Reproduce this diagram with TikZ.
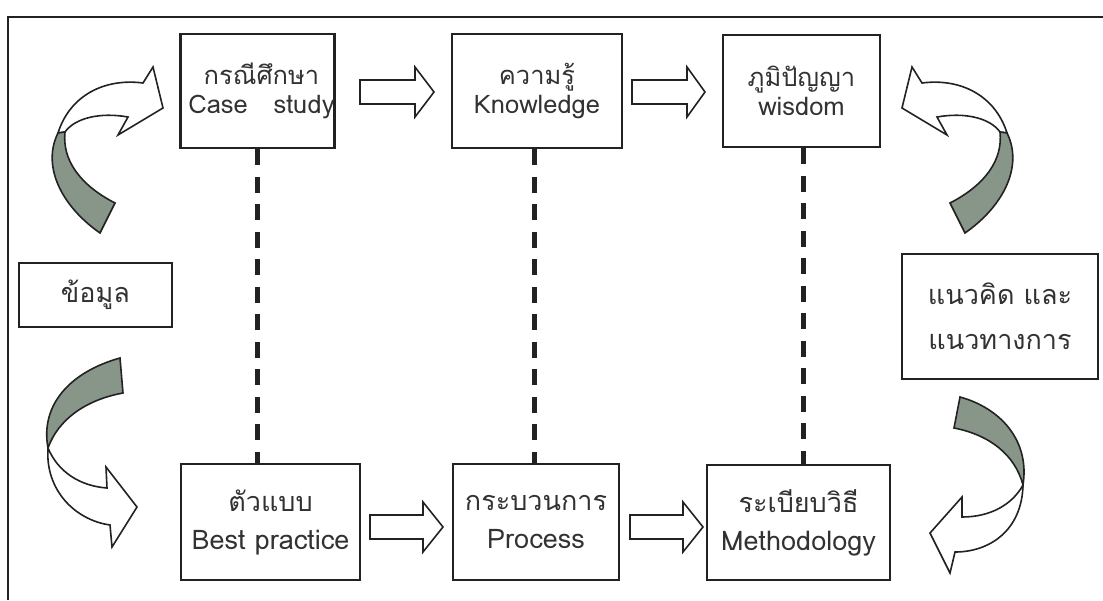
\documentclass[tikz,border=0pt]{standalone}
\usepackage{fontspec}
\newfontfamily\thaifont[Script=Thai]{Loma}
\definecolor{ink}{RGB}{34,34,34}
\definecolor{txt}{RGB}{50,50,50}
\definecolor{sage}{RGB}{136,150,138}
\tikzset{
  box/.style={draw=ink, line width=2.8pt, fill=white, align=center, inner sep=0pt, text=txt, font=\thaifont},
  topbox/.style={box, font=\thaifont\fontsize{25.5}{29}\selectfont},
  botbox/.style={box, font=\thaifont\fontsize{27}{38}\selectfont},
  dashline/.style={draw=ink, line width=5pt, dash pattern=on 16pt off 11.5pt},
  barr/.style={draw=ink, line width=1.6pt, fill=white, line join=miter},
  curvw/.style={draw=ink, line width=1.6pt, fill=white, line join=miter},
  curvg/.style={draw=ink, line width=1.6pt, fill=sage, line join=miter},
}
\newcommand{\blockarrow}[4]{% x0, y centre, length, head length
  \draw[barr] (#1,#2) ++(0,-12) -- ++(#3-#4,0) -- ++(0,-13) -- ++(#4,25) -- ++(-#4,25) -- ++(0,-13) -- ++(-#3+#4,0) -- cycle;}
\begin{document}
\begin{tikzpicture}[x=1pt,y=-1pt]
\useasboundingbox (0,0) rectangle (1103,600);
% frame
\draw[ink, line width=2.6pt] (8,600) -- (8,17) -- (1103,17);
% boxes
\node[topbox, minimum width=153pt, minimum height=114pt] (cs) at (257.5,91) {\hspace*{8pt}กรณีศึกษา\\\hspace*{8pt}Case\ \ \ study};
\node[topbox, minimum width=170pt, minimum height=114pt] (kn) at (537,91) {ความรู้\\Knowledge};
\node[topbox, minimum width=157pt, minimum height=112pt] (wd) at (801.5,91) {ภูมิปัญญา\\wisdom};
\node[botbox, minimum width=179pt, minimum height=116pt] (bp) at (270.5,522) {ตัวแบบ\\Best practice};
\node[botbox, minimum width=166pt, minimum height=116pt] (pr) at (536,522) {กระบวนการ\\Process};
\node[botbox, minimum width=183pt, minimum height=115pt] (me) at (798.5,522.5) {ระเบียบวิธี\\Methodology};
\node[box, font=\thaifont\fontsize{27}{36}\selectfont, minimum width=153pt, minimum height=64pt] (km) at (95.5,295) {ข้อมูล};
\node[box, font=\thaifont\fontsize{27}{45}\selectfont, minimum width=196pt, minimum height=125pt] (nk) at (1000,316.5) {แนวคิด และ\\แนวทางการ};
% dashed links
\draw[dashline] (cs.south) -- (cs.south |- bp.north);
\draw[dashline] (kn.south) ++(-3,0) coordinate (knd) -- (knd |- pr.north);
\draw[dashline] (wd.south) ++(1.5,0) coordinate (wdd) -- (wdd |- me.north);
% block arrows
\blockarrow{360}{92}{74}{19}
\blockarrow{632}{92}{73}{18}
\blockarrow{370}{527}{73}{20}
\blockarrow{630}{527}{73}{20}
% curved arrow top-left
\draw[curvw] (58,133) .. controls (70,95) and (105,78) .. (143,83) -- (153,67) -- (163,108) -- (118,135) -- (128,117) .. controls (100,112) and (75,118) .. (65,132) -- cycle;
\draw[curvg] (100,233) .. controls (60,205) and (42,165) .. (58,133) -- (65,132) .. controls (62,160) and (80,185) .. (115,203) -- cycle;
% curved arrow top-right (mirror)
\begin{scope}[shift={(1065,0)}, xscale=-1]
\draw[curvw] (58,133) .. controls (70,95) and (105,78) .. (143,83) -- (153,67) -- (163,108) -- (118,135) -- (128,117) .. controls (100,112) and (75,118) .. (65,132) -- cycle;
\draw[curvg] (100,233) .. controls (60,205) and (42,165) .. (58,133) -- (65,132) .. controls (62,160) and (80,185) .. (115,203) -- cycle;
\end{scope}
% curved arrow bottom-left
\draw[curvw] (48,448) .. controls (45,490) and (75,520) .. (110,525) -- (112,547) -- (137,507) -- (106,467) -- (107,488) .. controls (80,486) and (58,472) .. (48,448) -- cycle;
\draw[curvg] (120,358) .. controls (70,372) and (40,405) .. (48,448) .. controls (58,420) and (85,400) .. (123,393) -- cycle;
% curved arrow bottom-right
\draw[curvw] (1023,485) .. controls (1022,530) and (990,552) .. (955,552) -- (950,573) -- (930,533) -- (962,497) -- (962,517) .. controls (990,517) and (1012,505) .. (1023,485) -- cycle;
\draw[curvg] (960,397) .. controls (1000,408) and (1030,440) .. (1023,485) .. controls (1015,455) and (990,435) .. (954,428) -- cycle;
\end{tikzpicture}
\end{document}
